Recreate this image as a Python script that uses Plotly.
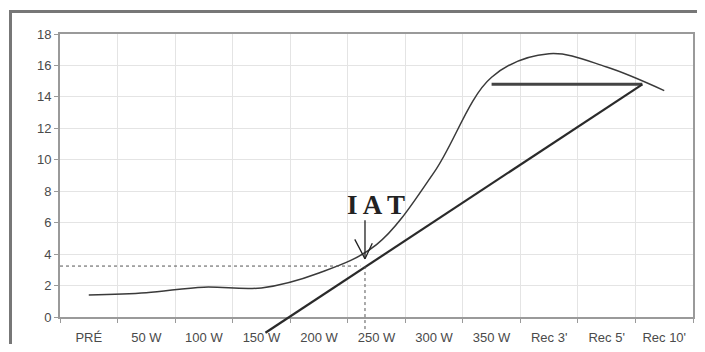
import plotly.graph_objects as go

# ---- data ----
categories = ["PRÉ", "50 W", "100 W", "150 W", "200 W", "250 W", "300 W", "350 W", "Rec 3'", "Rec 5'", "Rec 10'"]
lactate = [1.4, 1.55, 1.9, 1.85, 2.8, 4.6, 9.2, 15.25, 16.75, 15.9, 14.4]
tangent_x = [3.07, 9.62]
tangent_y = [-1.0, 14.8]
plateau_x = [7.0, 9.62]
plateau_y = [14.8, 14.8]
iat_x = 4.80
iat_y = 3.24
iat_ref_bottom = -0.9
arrow_tip_y = 3.7
y_ticks = list(range(0, 19, 2))

OFF = 8  # page body margin
W, H = 705 - 2 * OFF, 352 - 2 * OFF
# outer frame edges (figure pixels)
FR_L, FR_T = 12 - OFF, 13 - OFF
M_L, M_R, M_T, M_B = FR_L, 0, FR_T, 0
paper_w = W - M_L - M_R
paper_h = H - M_T - M_B
# main plot area (figure pixels)
P_L, P_R, P_T, P_B = 60 - OFF, 693 - OFF, 34 - OFF, 317 - OFF

x_dom = [(P_L - M_L) / paper_w, (P_R - M_L) / paper_w]
y_dom = [(H - M_B - P_B) / paper_h, (H - M_B - P_T) / paper_h]
px_per_unit = (P_B - P_T) / 18.0
y2_min = 18.0 - (H - M_B - P_T) / px_per_unit

xs = list(range(len(categories)))
bounds = [i - 0.5 for i in range(len(categories) + 1)]

grid = "#e4e4e4"
axcol = "#9a9a9a"
txt = "#4a4a4a"

fig = go.Figure()
fig.add_trace(go.Scatter(x=xs, y=lactate, mode="lines", line=dict(color="#3a3a3a", width=1.5, shape="spline", smoothing=1.0),
                         xaxis="x", yaxis="y", showlegend=False, hoverinfo="skip"))
fig.add_trace(go.Scatter(x=[-0.5, iat_x - 0.08], y=[iat_y, iat_y], mode="lines",
                         line=dict(color="#555", width=1, dash="dot"), xaxis="x", yaxis="y", showlegend=False))
fig.add_trace(go.Scatter(x=plateau_x, y=plateau_y, mode="lines", line=dict(color="#444", width=3),
                         xaxis="x", yaxis="y", showlegend=False))
fig.add_trace(go.Scatter(x=tangent_x, y=tangent_y, mode="lines", line=dict(color="#2a2a2a", width=2.2),
                         xaxis="x2", yaxis="y2", showlegend=False))
fig.add_trace(go.Scatter(x=[iat_x, iat_x], y=[iat_y, iat_ref_bottom], mode="lines",
                         line=dict(color="#555", width=1, dash="dot"), xaxis="x2", yaxis="y2", showlegend=False))
# empty trace for the outer frame subplot
fig.add_trace(go.Scatter(x=[], y=[], xaxis="x3", yaxis="y3", showlegend=False))

fig.update_layout(
    width=W, height=H, template="none",
    margin=dict(l=M_L, r=M_R, t=M_T, b=M_B, pad=0),
    paper_bgcolor="white", plot_bgcolor="rgba(0,0,0,0)",
    font=dict(family="Liberation Sans, Arial, sans-serif", size=13, color=txt),
    xaxis=dict(domain=x_dom, anchor="y", range=[-0.5, 10.5], tickmode="array", tickvals=xs, ticktext=categories,
               ticks="", showgrid=False, zeroline=False, showline=True, linecolor=axcol, linewidth=2, mirror=True,
               minor=dict(tickmode="array", tickvals=bounds, ticks="outside", ticklen=4, tickcolor=axcol,
                          showgrid=True, gridcolor=grid, gridwidth=1),
               ticklabelstandoff=7, tickfont=dict(size=13, color=txt), automargin=False),
    yaxis=dict(domain=y_dom, anchor="x", range=[0, 18], tickmode="array", tickvals=y_ticks,
               ticks="outside", ticklen=4, tickcolor=axcol, showgrid=True, gridcolor=grid, gridwidth=1,
               zeroline=False, showline=True, linecolor=axcol, linewidth=2, mirror=True,
               tickfont=dict(size=13, color=txt), automargin=False),
    xaxis2=dict(domain=x_dom, anchor="y2", range=[-0.5, 10.5], visible=False),
    yaxis2=dict(domain=[0, y_dom[1]], anchor="x2", range=[y2_min, 18], visible=False),
    xaxis3=dict(domain=[0, 1], anchor="y3", side="top", range=[0, 1], showline=True, linecolor="#777",
                linewidth=2.5, ticks="", showticklabels=False, showgrid=False, zeroline=False, automargin=False),
    yaxis3=dict(domain=[0, 1], anchor="x3", side="left", range=[0, 1], showline=True, linecolor="#777",
                linewidth=2.5, ticks="", showticklabels=False, showgrid=False, zeroline=False, automargin=False),
)

fig.add_annotation(x=iat_x + 0.19, y=7.1, xref="x", yref="y", text="<b>I A T</b>", showarrow=False,
                   font=dict(family="Liberation Serif, Times New Roman, serif", size=27, color="#222"))
fig.add_annotation(x=iat_x, y=arrow_tip_y, xref="x", yref="y", ax=iat_x, ay=6.25, axref="x", ayref="y",
                   text="", showarrow=True, arrowhead=0, arrowwidth=1.3, arrowcolor="#222")
fig.add_annotation(x=iat_x, y=arrow_tip_y, xref="x", yref="y", ax=-11, ay=-21,
                   text="", showarrow=True, arrowhead=0, arrowwidth=1.3, arrowcolor="#222")
fig.add_annotation(x=iat_x, y=arrow_tip_y, xref="x", yref="y", ax=8, ay=-17,
                   text="", showarrow=True, arrowhead=0, arrowwidth=1.3, arrowcolor="#222")

fig.write_html("out.html")
